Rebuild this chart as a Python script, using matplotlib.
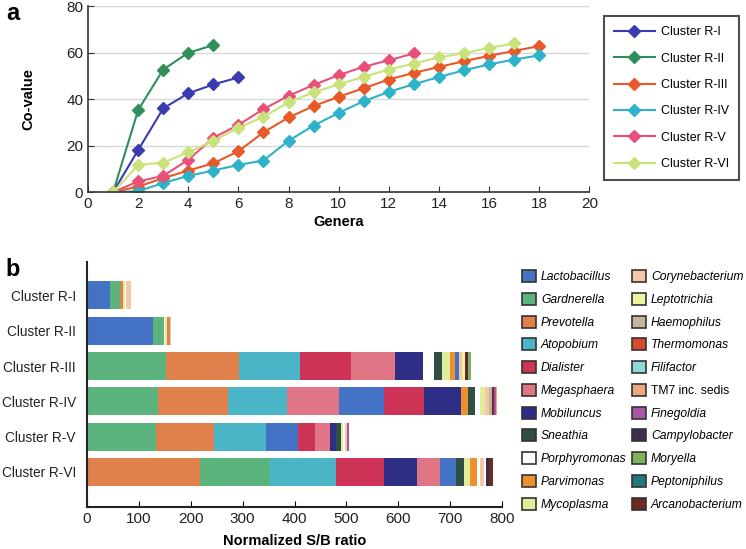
import matplotlib
matplotlib.use('Agg')
import matplotlib.pyplot as plt
from matplotlib.patches import Patch

plt.rcParams['font.family'] = ['Liberation Sans', 'DejaVu Sans']

# ---- panel a: co-value vs genera ----
line_names = ['Cluster R-I', 'Cluster R-II', 'Cluster R-III', 'Cluster R-IV', 'Cluster R-V', 'Cluster R-VI']
line_colors = ['#3b3bb0', '#2e8f5a', '#e8592a', '#2eb2c9', '#e8507a', '#c9e37a']
r1 = [0, 18.1, 36.0, 42.5, 46.3, 49.3]
r2 = [0, 35.3, 52.7, 59.9, 63.2]
r3 = [0, 2.4, 6.0, 9.3, 12.4, 17.6, 25.7, 32.1, 37.0, 41.0, 44.7, 48.4, 51.3, 53.8, 56.3, 58.6, 60.7, 62.8]
r4 = [0, 0.4, 3.9, 7.0, 9.3, 11.7, 13.6, 22.1, 28.6, 34.1, 39.1, 43.1, 46.4, 49.5, 52.4, 54.9, 57.0, 58.8]
r5 = [0, 4.6, 7.0, 13.9, 23.4, 28.9, 35.7, 41.4, 46.1, 50.3, 53.9, 56.7, 59.6]
r6 = [0, 11.7, 12.7, 17.1, 22.1, 27.7, 32.4, 38.6, 42.9, 46.3, 49.6, 52.7, 55.3, 57.9, 59.8, 62.0, 63.9]
line_series = [r1, r2, r3, r4, r5, r6]

# ---- panel b: stacked S/B ratios ----
clusters = ['Cluster R-I', 'Cluster R-II', 'Cluster R-III', 'Cluster R-IV', 'Cluster R-V', 'Cluster R-VI']
genera = ['Lactobacillus', 'Gardnerella', 'Prevotella', 'Atopobium', 'Dialister', 'Megasphaera',
          'Mobiluncus', 'Sneathia', 'Porphyromonas', 'Parvimonas', 'Mycoplasma',
          'Corynebacterium', 'Leptotrichia', 'Haemophilus', 'Thermomonas', 'Filifactor',
          'TM7 inc. sedis', 'Finegoldia', 'Campylobacter', 'Moryella', 'Peptoniphilus', 'Arcanobacterium']
genus_colors = ['#4472c4', '#5bb47e', '#e0804a', '#4bb5c8', '#cc3355', '#e07585',
                '#2e2e86', '#2f4f45', '#ffffff', '#ee9030', '#e0ee9a',
                '#f5c7a8', '#eef3a0', '#c4b5a0', '#d94a2a', '#8ed8d6',
                '#eba77e', '#a857a8', '#3e2b4e', '#7fb05a', '#227a7a', '#6b2a22']

c1_genus = ['Lactobacillus', 'Gardnerella', 'Prevotella', 'Mycoplasma', 'Porphyromonas', 'Corynebacterium']
c1_value = [44, 20, 6, 3, 3, 8]
c2_genus = ['Lactobacillus', 'Gardnerella', 'Porphyromonas', 'Mycoplasma', 'Prevotella', 'Corynebacterium']
c2_value = [127, 21, 1.5, 4, 6.5, 2]
c3_genus = ['Gardnerella', 'Prevotella', 'Atopobium', 'Dialister', 'Megasphaera', 'Mobiluncus',
            'Porphyromonas', 'Sneathia', 'Mycoplasma', 'Parvimonas', 'Lactobacillus',
            'Corynebacterium', 'Leptotrichia', 'Arcanobacterium', 'Campylobacter', 'Moryella']
c3_value = [153, 140, 118, 97, 85, 55, 20, 16, 15, 11, 7, 6, 6, 3, 3, 5]
c4_genus = ['Gardnerella', 'Prevotella', 'Atopobium', 'Megasphaera', 'Lactobacillus', 'Dialister',
            'Mobiluncus', 'Parvimonas', 'Sneathia', 'Porphyromonas', 'Mycoplasma',
            'Corynebacterium', 'Haemophilus', 'Arcanobacterium', 'Finegoldia', 'TM7 inc. sedis']
c4_value = [137, 135, 113, 101, 86, 78, 70, 14, 14, 10, 9, 8, 5, 4, 4, 3]
c5_genus = ['Gardnerella', 'Prevotella', 'Atopobium', 'Lactobacillus', 'Dialister', 'Megasphaera',
            'Mobiluncus', 'Sneathia', 'Mycoplasma', 'Porphyromonas', 'Corynebacterium', 'Finegoldia']
c5_value = [133, 111, 101, 61, 34, 29, 11, 9, 4, 5, 3, 4]
c6_genus = ['Prevotella', 'Gardnerella', 'Atopobium', 'Dialister', 'Mobiluncus', 'Megasphaera',
            'Lactobacillus', 'Sneathia', 'Mycoplasma', 'Parvimonas', 'Porphyromonas',
            'Corynebacterium', 'Porphyromonas', 'Campylobacter', 'Arcanobacterium']
c6_value = [217, 136, 127, 93, 64, 44, 30, 15, 13, 12, 7, 8, 3, 5, 9]
stack_genus = [c1_genus, c2_genus, c3_genus, c4_genus, c5_genus, c6_genus]
stack_value = [c1_value, c2_value, c3_value, c4_value, c5_value, c6_value]

fig = plt.figure(figsize=(7.46, 5.49), dpi=100)

# panel a
ax1 = fig.add_axes([0.118, 0.650, 0.672, 0.339])
for name, col, ys in zip(line_names, line_colors, line_series):
    xs = list(range(1, len(ys) + 1))
    ax1.plot(xs, ys, color=col, marker='D', markersize=6, lw=1.5, label=name)
ax1.set_xlim(0, 20)
ax1.set_ylim(0, 80)
ax1.set_xticks(range(0, 21, 2))
ax1.set_yticks(range(0, 81, 20))
ax1.yaxis.grid(True, color='#d8d8d8', lw=1)
ax1.set_axisbelow(True)
for s in ['top', 'right']:
    ax1.spines[s].set_visible(False)
for s in ['left', 'bottom']:
    ax1.spines[s].set_color('#333333')
    ax1.spines[s].set_linewidth(1.2)
ax1.tick_params(direction='in', length=4, labelsize=11, colors='#333333', labelcolor='#222222')
ax1.set_xlabel('Genera', fontsize=10.5, fontweight='bold', labelpad=3)
ax1.set_ylabel('Co-value', fontsize=10.5, fontweight='bold', labelpad=22)
leg1 = fig.legend(loc='upper left', bbox_to_anchor=(0.801, 0.982), fontsize=9,
                  frameon=True, fancybox=False, edgecolor='#222222', handlelength=3.3,
                  handletextpad=0.5, labelspacing=1.15, borderpad=0.8)
leg1.get_frame().set_linewidth(1.5)

# panel b
ax2 = fig.add_axes([0.1166, 0.076, 0.5564, 0.447])
for i, (gs, vs) in enumerate(zip(stack_genus, stack_value)):
    left = 0
    for g, v in zip(gs, vs):
        ax2.barh(i, v, left=left, height=0.79, color=genus_colors[genera.index(g)], lw=0)
        left += v
ax2.set_yticks(range(len(clusters)))
ax2.set_yticklabels(clusters)
ax2.set_ylim(6.0, -0.95)
ax2.set_xlim(0, 800)
ax2.set_xticks(range(0, 801, 100))
for s in ['top', 'right']:
    ax2.spines[s].set_visible(False)
for s in ['left', 'bottom']:
    ax2.spines[s].set_color('#222222')
    ax2.spines[s].set_linewidth(1.5)
ax2.tick_params(axis='x', direction='in', length=4, labelsize=11, labelcolor='#222222')
ax2.tick_params(axis='y', length=0, labelsize=9.8, pad=8, labelcolor='#222222')
ax2.set_xlabel('Normalized S/B ratio', fontsize=10.5, fontweight='bold', labelpad=6)

handles = [Patch(facecolor=c, edgecolor='#333333', lw=1.2, label=g) for g, c in zip(genera, genus_colors)]
leg2 = fig.legend(handles=handles, loc='upper left', bbox_to_anchor=(0.700, 0.508), ncol=2,
                  frameon=False, prop={'style': 'italic', 'size': 8.7},
                  handlelength=1.15, handleheight=1.15, handletextpad=0.4,
                  labelspacing=0.8, columnspacing=0.45, borderpad=0, borderaxespad=0)
for t in leg2.get_texts():
    if t.get_text() == 'TM7 inc. sedis':
        t.set_fontstyle('normal')

fig.text(0.008, 0.975, 'a', fontsize=17, fontweight='bold', va='center')
fig.text(0.008, 0.510, 'b', fontsize=17, fontweight='bold', va='center')

fig.savefig('out.png', dpi=100)
